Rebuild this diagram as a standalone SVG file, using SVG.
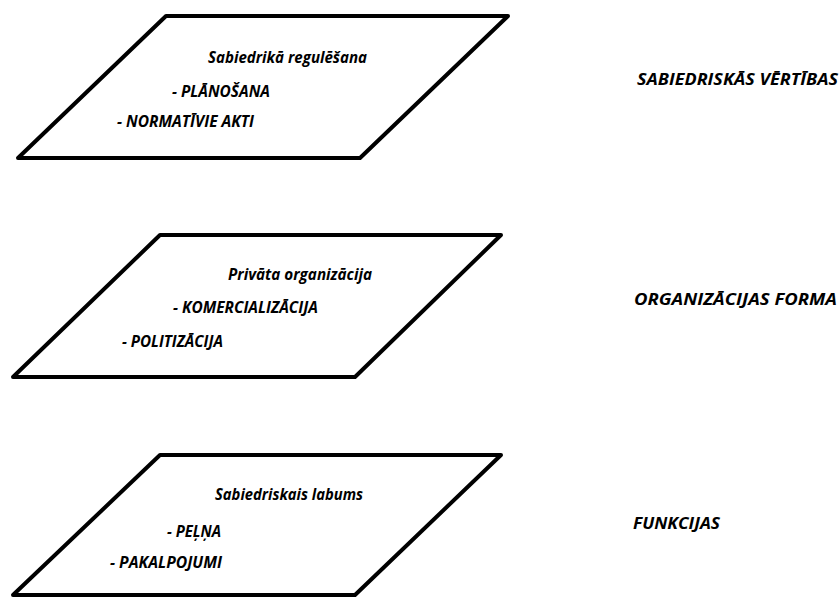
<svg xmlns="http://www.w3.org/2000/svg" width="840" height="599" viewBox="0 0 840 599">
<style>
.p{fill:#fff;stroke:#000;stroke-width:4;stroke-linejoin:round;stroke-linecap:round}
.t{font-family:"Open Sans","Noto Sans","DejaVu Sans",sans-serif;font-size:16px;font-weight:bold;font-style:italic;fill:#000}
</style>
<rect width="840" height="599" fill="#fff"/>
<g id="layer-top">
<polygon class="p" points="166,16 508,16 360,158 18,158"/>
<text class="t" x="208" y="63" textLength="159" lengthAdjust="spacingAndGlyphs">Sabiedrikā regulēšana</text>
<text class="t" x="172" y="97" textLength="98" lengthAdjust="spacingAndGlyphs">- PLĀNOŠANA</text>
<text class="t" x="117" y="127" textLength="137" lengthAdjust="spacingAndGlyphs">- NORMATĪVIE AKTI</text>
</g>
<g id="label-top">
<text class="t" x="637" y="85" textLength="201" lengthAdjust="spacingAndGlyphs">SABIEDRISKĀS VĒRTĪBAS</text>
</g>
<g id="layer-middle">
<polygon class="p" points="160,235 501,235 355,377 13,377"/>
<text class="t" x="228" y="280" textLength="144" lengthAdjust="spacingAndGlyphs">Privāta organizācija</text>
<text class="t" x="173" y="313" textLength="145" lengthAdjust="spacingAndGlyphs">- KOMERCIALIZĀCIJA</text>
<text class="t" x="122" y="347" textLength="101" lengthAdjust="spacingAndGlyphs">- POLITIZĀCIJA</text>
</g>
<g id="label-middle">
<text class="t" x="634" y="305" textLength="203" lengthAdjust="spacingAndGlyphs">ORGANIZĀCIJAS FORMA</text>
</g>
<g id="layer-bottom">
<polygon class="p" points="160,455 501,455 355,595 13,595"/>
<text class="t" x="215" y="500" textLength="148" lengthAdjust="spacingAndGlyphs">Sabiedriskais labums</text>
<text class="t" x="167" y="537" textLength="54" lengthAdjust="spacingAndGlyphs">- PEĻŅA</text>
<text class="t" x="110" y="568" textLength="112" lengthAdjust="spacingAndGlyphs">- PAKALPOJUMI</text>
</g>
<g id="label-bottom">
<text class="t" x="633" y="529" textLength="87" lengthAdjust="spacingAndGlyphs">FUNKCIJAS</text>
</g>
<g id="connectors"/>
</svg>
